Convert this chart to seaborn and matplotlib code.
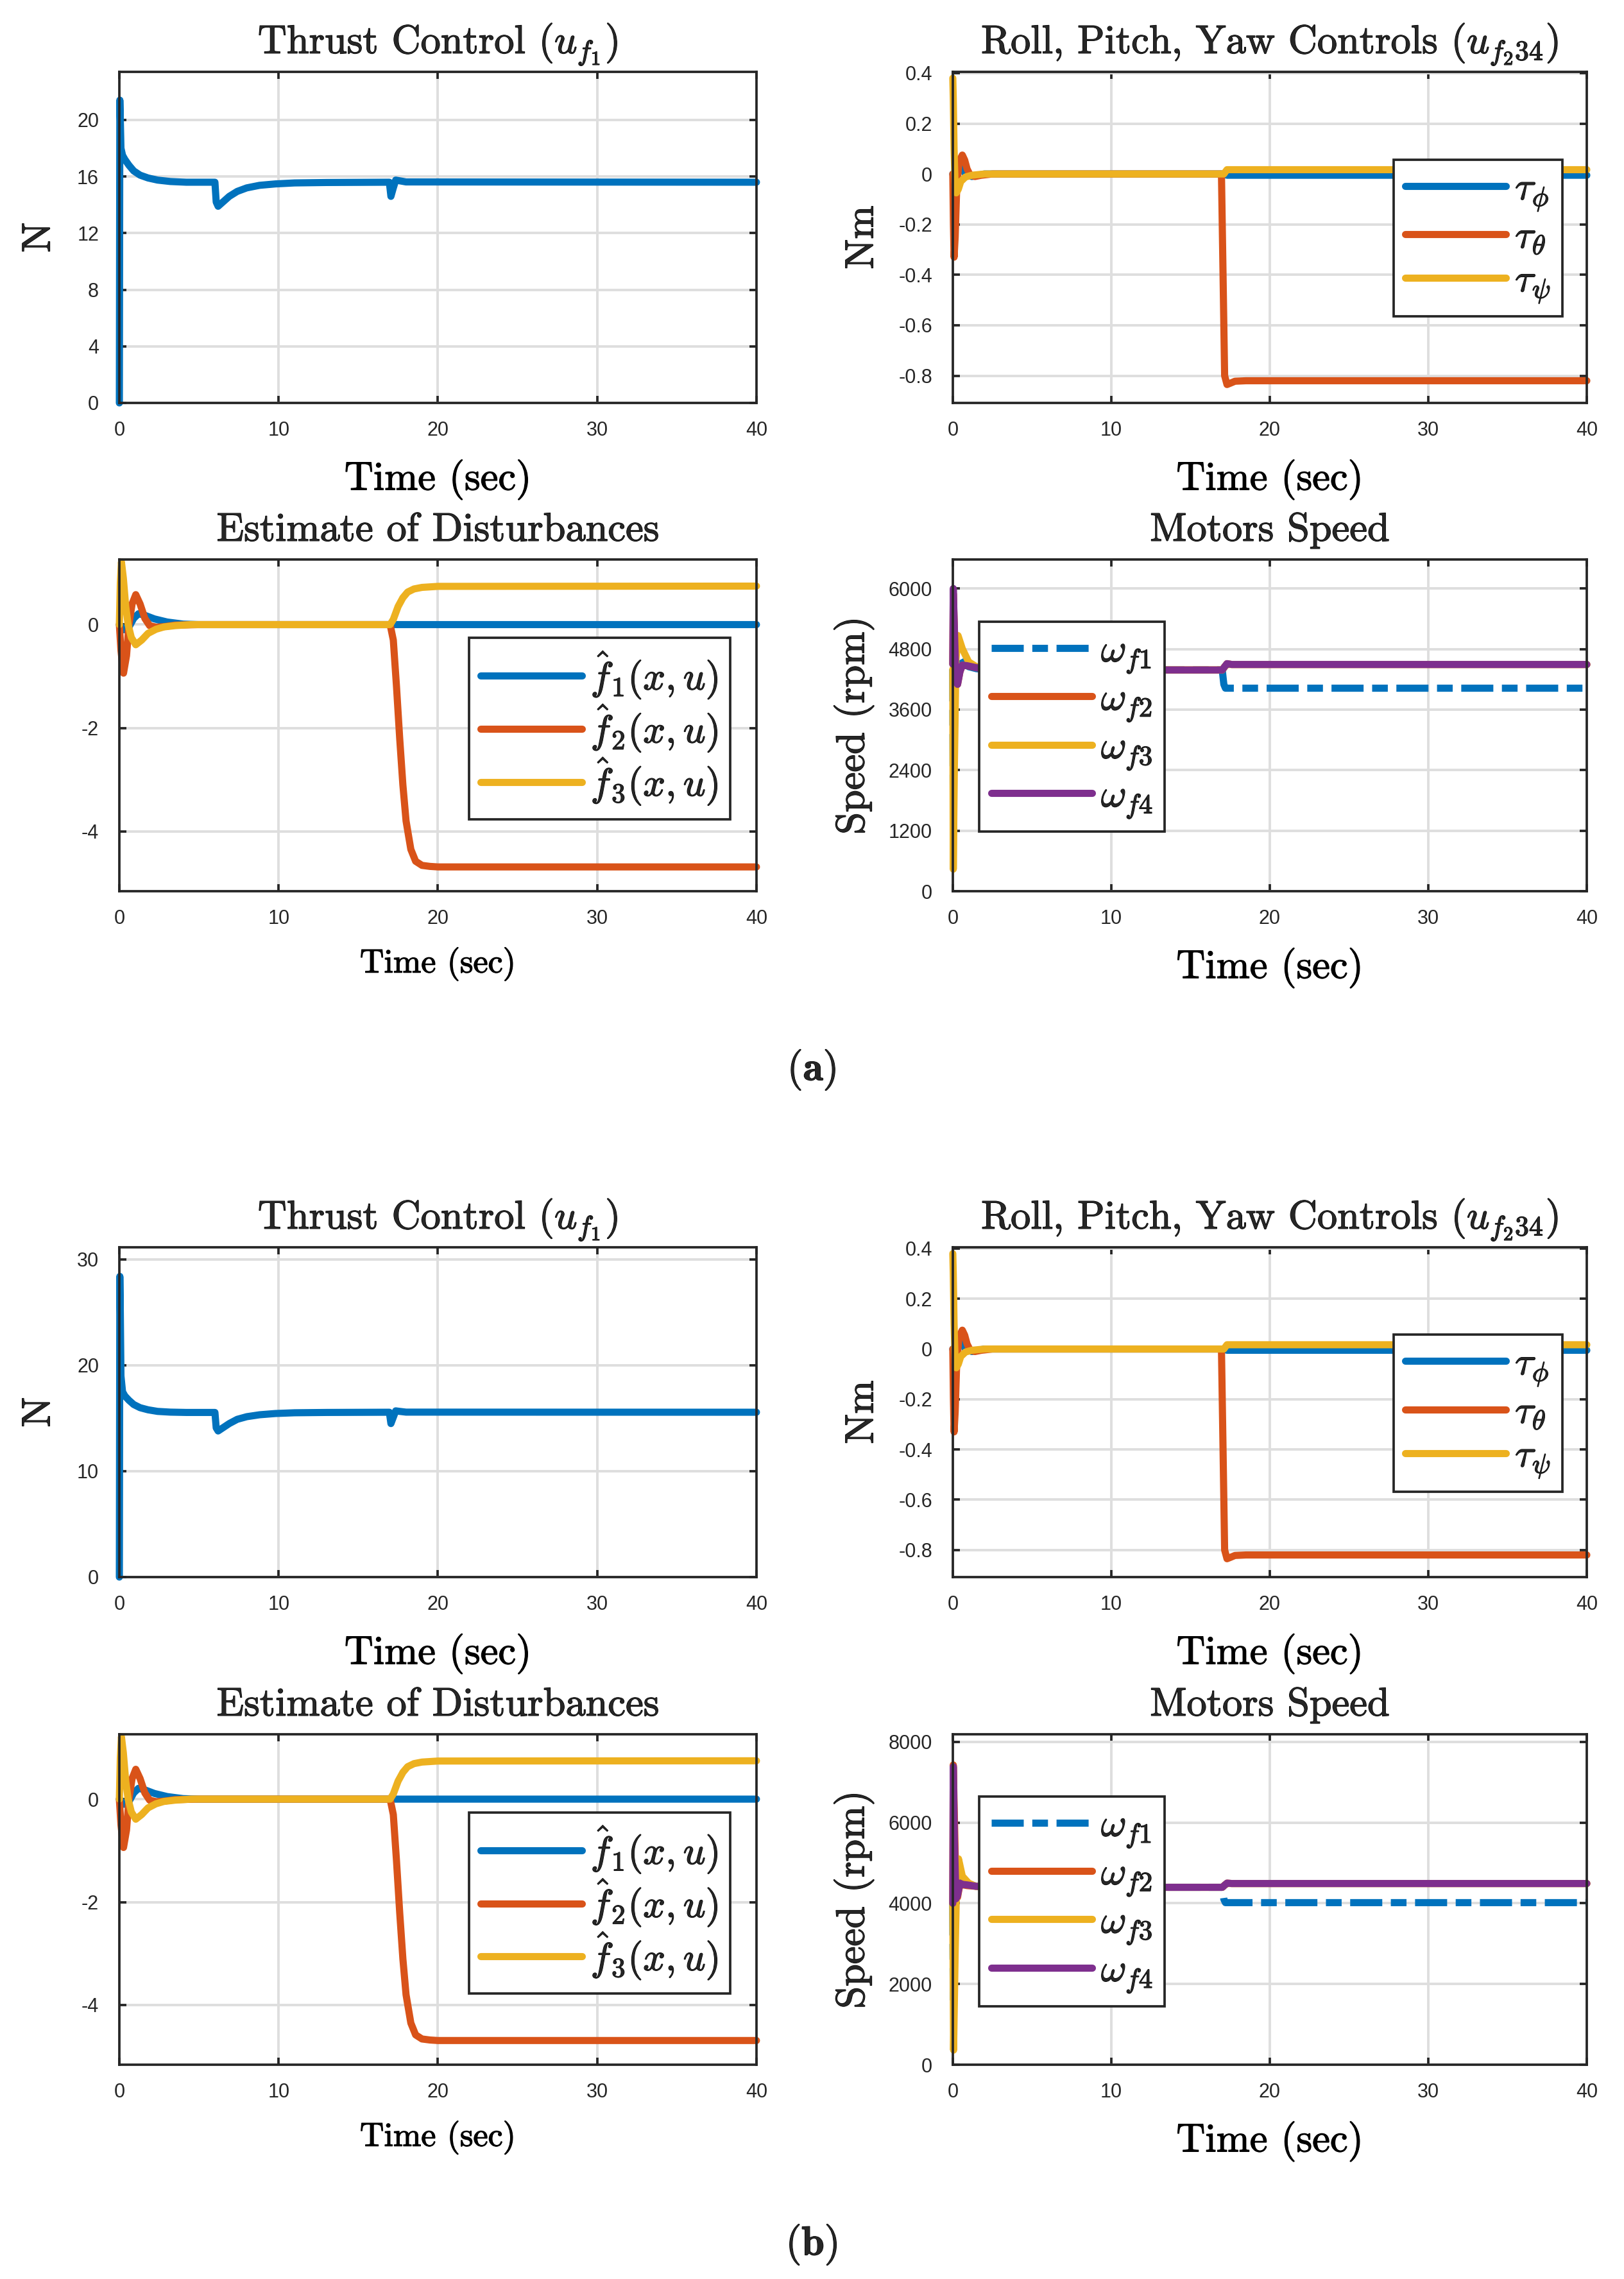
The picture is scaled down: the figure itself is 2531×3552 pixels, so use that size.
#!/usr/bin/env python
""" Quadrotor control results: thrust, torques, disturbance estimates, motor speeds """

import pandas as pd
import seaborn as sns
import matplotlib
matplotlib.use('Agg')
import matplotlib.pyplot as plt
import matplotlib.patheffects as pe

# MATLAB default colours
BLUE = '#0072BD'
ORANGE = '#D95319'
YELLOW = '#EDB120'
PURPLE = '#7E2F8E'
DARK = '#262626'

# ---------------- data ----------------
# thrust control u_f1
thrust_t = [0, 0.03, 0.06, 0.1, 0.2, 0.35, 0.6, 0.9, 1.3, 1.8, 2.4, 3.2, 4.2,
            5.2, 6.0, 6.08, 6.2, 6.5, 6.9, 7.4, 8.0, 8.8, 9.8, 11.0, 13.0,
            16.95, 17.05, 17.2, 17.35, 17.6, 18.0, 40]
thrust_a = [0, 21.4, 20.0, 18.0, 17.5, 17.2, 16.8, 16.4, 16.1, 15.9, 15.75,
            15.65, 15.6, 15.6, 15.6, 14.2, 13.9, 14.2, 14.6, 14.95, 15.2, 15.38,
            15.48, 15.55, 15.58, 15.6, 14.6, 15.2, 15.75, 15.7, 15.62, 15.6]
thrust_b = [0, 28.4, 25.0, 19.0, 17.5, 17.1, 16.7, 16.3, 16.0, 15.8, 15.65,
            15.58, 15.55, 15.55, 15.55, 14.1, 13.8, 14.1, 14.5, 14.9, 15.15,
            15.33, 15.45, 15.52, 15.55, 15.57, 14.5, 15.1, 15.7, 15.65, 15.58,
            15.57]

# roll, pitch, yaw controls
tau_phi_t = [0, 0.1, 0.3, 0.5, 0.8, 1.2, 2.0, 3.0, 17.1, 17.3, 40]
tau_phi = [0, -0.02, 0.03, 0.035, 0.0, -0.01, 0.0, 0.0, 0.0, -0.005, -0.005]
tau_theta_t = [0, 0.04, 0.08, 0.15, 0.25, 0.4, 0.6, 0.75, 0.9, 1.1, 1.4, 1.8,
               2.5, 3.5, 16.95, 17.05, 17.15, 17.3, 17.5, 17.8, 18.5, 40]
tau_theta = [0, -0.2, -0.33, -0.25, -0.05, 0.05, 0.075, 0.055, 0.02, -0.005,
             -0.01, -0.005, 0.0, 0.0, 0.0, -0.4, -0.8, -0.835, -0.83, -0.822,
             -0.82, -0.82]
tau_psi_t = [0, 0.03, 0.08, 0.15, 0.22, 0.35, 0.5, 0.8, 1.2, 2.0, 17.1, 17.3, 40]
tau_psi = [0.38, 0.3, 0.1, -0.05, -0.075, -0.06, -0.03, -0.012, -0.005, 0.0,
           0.0, 0.017, 0.017]

# estimate of disturbances
f1_t = [0, 0.3, 0.6, 0.9, 1.2, 1.6, 2.2, 3.0, 4.0, 5.0, 40]
f1 = [0, -0.1, -0.05, 0.12, 0.21, 0.18, 0.11, 0.05, 0.01, 0, 0]
f2_t = [0, 0.1, 0.26, 0.45, 0.6, 0.8, 1.03, 1.3, 1.6, 1.9, 2.3, 2.8, 3.5,
        5.0, 17.0, 17.2, 17.4, 17.6, 17.8, 18.0, 18.3, 18.6, 19.0, 19.5,
        20.0, 40]
f2 = [0, -0.5, -0.94, -0.6, 0.0, 0.4, 0.58, 0.4, 0.12, -0.02, -0.05, -0.04,
      -0.01, 0.0, 0.0, -0.3, -1.2, -2.2, -3.1, -3.8, -4.35, -4.58, -4.66,
      -4.68, -4.69, -4.69]
f3_t = [0, 0.06, 0.13, 0.25, 0.4, 0.55, 0.75, 1.03, 1.4, 1.8, 2.3, 2.8, 3.5,
        4.5, 17.0, 17.2, 17.5, 17.8, 18.1, 18.5, 19.0, 20.0, 40]
f3 = [0, 0.8, 1.21, 0.9, 0.35, 0.0, -0.25, -0.39, -0.3, -0.17, -0.09, -0.045,
      -0.02, 0.0, 0.0, 0.1, 0.35, 0.52, 0.63, 0.69, 0.72, 0.74, 0.745]

# motors speed, case (a)
wa1_t = [0, 0.03, 0.1, 0.2, 0.35, 0.6, 1.0, 1.5, 2.5, 17.0, 17.1, 17.2, 40]
wa1 = [4400, 1500, 3500, 4800, 4700, 4550, 4450, 4410, 4385, 4385, 4100,
       4024, 4024]
wa_t = [0, 0.03, 0.1, 0.2, 0.3, 0.45, 0.6, 0.9, 1.5, 2.5, 17.0, 17.15, 17.3,
        17.6, 40]
wa2 = [4500, 5900, 5200, 4200, 4100, 4350, 4480, 4470, 4430, 4385, 4385,
       4450, 4510, 4494, 4494]
wa3_t = [0, 0.03, 0.1, 0.2, 0.33, 0.6, 1.0, 1.5, 2.5, 17.0, 17.15, 17.3, 40]
wa3 = [4400, 437, 2500, 4600, 5067, 4806, 4545, 4448, 4385, 4385, 4450, 4494,
       4494]
wa4 = [4500, 6000, 5200, 4150, 4100, 4350, 4480, 4470, 4430, 4385, 4385,
       4450, 4510, 4494, 4494]

# motors speed, case (b)
wb1_t = [0, 0.03, 0.1, 0.2, 0.35, 0.6, 1.0, 1.5, 2.5, 17.0, 17.1, 17.2, 40]
wb1 = [4000, 1569, 3500, 4900, 4750, 4600, 4480, 4420, 4397, 4397, 4100,
       4017, 4017]
wb_t = [0, 0.03, 0.1, 0.2, 0.3, 0.45, 0.6, 0.9, 1.5, 2.5, 17.0, 17.15, 17.3,
        17.6, 40]
wb2 = [4000, 7430, 6138, 4300, 4150, 4480, 4460, 4440, 4420, 4397, 4397,
       4450, 4500, 4491, 4491]
wb3_t = [0, 0.05, 0.15, 0.25, 0.36, 0.6, 1.0, 1.5, 2.5, 17.0, 17.15, 17.3, 40]
wb3 = [4000, 362, 2800, 4700, 5103, 4672, 4500, 4414, 4397, 4397, 4450, 4491,
       4491]
wb4 = [4000, 7388, 5600, 4112, 4200, 4500, 4470, 4457, 4420, 4397, 4397,
       4450, 4500, 4491, 4491]

time_ticks = [0, 10, 20, 30, 40]

TITLE_FS = 45
LABEL_FS = 45
LEG_FS = 44
LW = 8
DASHDOT = (0, (4.5, 1.2, 2.2, 1.2))
# thin outline so the Computer Modern text looks as heavy as in the original
HEAVY = [pe.withStroke(linewidth=0.9, foreground='black')]


def line(ax, t, y, color, label=None, ls='-'):
    """ Draw one series with seaborn """
    df = pd.DataFrame({'t': t, 'y': y})
    sns.lineplot(data=df, x='t', y='y', ax=ax, color=color, linewidth=LW,
                 label=label, linestyle=ls, estimator=None, sort=False,
                 legend=False, clip_on=False)


def style_axes(ax, ylim, yticks, yticklabels, xlabel_fs=LABEL_FS):
    """ MATLAB-like box, grid and ticks """
    ax.set_xlim(0, 40)
    ax.set_xticks(time_ticks)
    ax.set_xticklabels([str(v) for v in time_ticks])
    ax.set_ylim(*ylim)
    ax.set_yticks(yticks)
    ax.set_yticklabels(yticklabels)
    ax.grid(True, color='#dedede', linewidth=2.8)
    ax.set_axisbelow(True)
    for s in ax.spines.values():
        s.set_visible(True)
        s.set_linewidth(2.7)
        s.set_color(DARK)
        s.set_zorder(3)
    ax.tick_params(axis='both', direction='in', top=True, right=True,
                   bottom=True, left=True, length=8, width=2.7, color=DARK,
                   labelcolor=DARK, labelsize=22)
    ax.tick_params(axis='x', pad=20)
    ax.tick_params(axis='y', pad=23)
    ax.set_xlabel('Time (sec)', fontfamily='cmr10', fontsize=xlabel_fs,
                  labelpad=22, color='black', path_effects=HEAVY)
    ax.set_ylabel('')


def legend(ax, x, y, spacing=0.18):
    leg = ax.legend(loc='upper left', bbox_to_anchor=(x, y), borderaxespad=0,
                    fontsize=LEG_FS, frameon=True, fancybox=False,
                    framealpha=1, edgecolor=DARK, handlelength=2.57,
                    handletextpad=0.23, labelspacing=spacing, borderpad=0.3)
    leg.get_frame().set_linewidth(2.7)
    leg.set_zorder(5)
    for txt in leg.get_texts():
        txt.set_path_effects(HEAVY)


def panel(fig, rows, thrust, w1_t, w1, w_t, w2, w3_t, w3, w4, thrust_lim,
          thrust_ticks, speed_lim, speed_ticks):
    """ One block of four subplots """
    (b1, h1), (b2, h2) = rows
    left_x, left_w = 0.0735, 0.3923
    right_x, right_w = 0.5867, 0.3904

    # Thrust
    ax = fig.add_axes([left_x, b1, left_w, h1])
    line(ax, thrust_t, thrust, BLUE)
    style_axes(ax, thrust_lim, thrust_ticks, [str(v) for v in thrust_ticks])
    ax.set_title('Thrust Control $(u_{f_1})$', fontfamily='cmr10',
                 fontsize=TITLE_FS, pad=21, path_effects=HEAVY)
    ax.set_ylabel('N', fontfamily='cmr10', fontsize=LABEL_FS, labelpad=22,
                  path_effects=HEAVY)

    # Roll, pitch, yaw
    ax = fig.add_axes([right_x, b1, right_w, h1])
    line(ax, tau_phi_t, tau_phi, BLUE, r'$\tau_\phi$')
    line(ax, tau_theta_t, tau_theta, ORANGE, r'$\tau_\theta$')
    line(ax, tau_psi_t, tau_psi, YELLOW, r'$\tau_\psi$')
    rt = [-0.8, -0.6, -0.4, -0.2, 0, 0.2, 0.4]
    style_axes(ax, (-0.908, 0.405), rt,
               ['-0.8', '-0.6', '-0.4', '-0.2', '0', '0.2', '0.4'])
    ax.set_title('Roll, Pitch, Yaw Controls $(u_{f_2 34})$',
                 fontfamily='cmr10', fontsize=TITLE_FS, pad=21,
                 path_effects=HEAVY)
    ax.set_ylabel('Nm', fontfamily='cmr10', fontsize=LABEL_FS, labelpad=20,
                  path_effects=HEAVY)
    legend(ax, 0.695, 0.735)

    # Disturbances
    ax = fig.add_axes([left_x, b2, left_w, h2])
    line(ax, f1_t, f1, BLUE, r'$\hat{f}_1(x,u)$')
    line(ax, f2_t, f2, ORANGE, r'$\hat{f}_2(x,u)$')
    line(ax, f3_t, f3, YELLOW, r'$\hat{f}_3(x,u)$')
    style_axes(ax, (-5.16, 1.26), [-4, -2, 0], ['-4', '-2', '0'],
               xlabel_fs=37.5)
    ax.set_title('Estimate of Disturbances', fontfamily='cmr10',
                 fontsize=TITLE_FS, pad=21, path_effects=HEAVY)
    legend(ax, 0.549, 0.764, spacing=0.04)

    # Motors speed
    ax = fig.add_axes([right_x, b2, right_w, h2])
    line(ax, w1_t, w1, BLUE, r'$\omega_{f1}$', ls=DASHDOT)
    line(ax, w_t, w2, ORANGE, r'$\omega_{f2}$')
    line(ax, w3_t, w3, YELLOW, r'$\omega_{f3}$')
    line(ax, w_t, w4, PURPLE, r'$\omega_{f4}$')
    style_axes(ax, speed_lim, speed_ticks, [str(v) for v in speed_ticks])
    ax.set_title('Motors Speed', fontfamily='cmr10', fontsize=TITLE_FS,
                 pad=21, path_effects=HEAVY)
    ax.set_ylabel('Speed (rpm)', fontfamily='cmr10', fontsize=LABEL_FS,
                  labelpad=16, path_effects=HEAVY)
    legend(ax, 0.042, 0.8125)


def main():
    """ Main function """
    sns.set_theme(style='white')
    plt.rcParams['font.family'] = ['Liberation Sans', 'DejaVu Sans']
    plt.rcParams['mathtext.fontset'] = 'cm'
    plt.rcParams['axes.unicode_minus'] = False

    fig = plt.figure(figsize=(25.31, 35.52), dpi=100)

    panel(fig, [(0.8232, 0.14527), (0.60895, 0.14555)], thrust_a,
          wa1_t, wa1, wa_t, wa2, wa3_t, wa3, wa4,
          (0, 23.4), [0, 4, 8, 12, 16, 20],
          (0, 6575), [0, 1200, 2400, 3600, 4800, 6000])
    panel(fig, [(0.30800, 0.1447), (0.09403, 0.14499)], thrust_b,
          wb1_t, wb1, wb_t, wb2, wb3_t, wb3, wb4,
          (0, 31.15), [0, 10, 20, 30],
          (0, 8190), [0, 2000, 4000, 6000, 8000])

    fig.text(1265 / 2531, 1 - 1667 / 3552, r'$(\mathbf{a})$', ha='center',
             va='center', fontsize=46, path_effects=HEAVY)
    fig.text(1265 / 2531, 1 - 3498 / 3552, r'$(\mathbf{b})$', ha='center',
             va='center', fontsize=46, path_effects=HEAVY)

    fig.savefig('out.png', dpi=100)
    plt.close(fig)


if __name__ == '__main__':
    main()
